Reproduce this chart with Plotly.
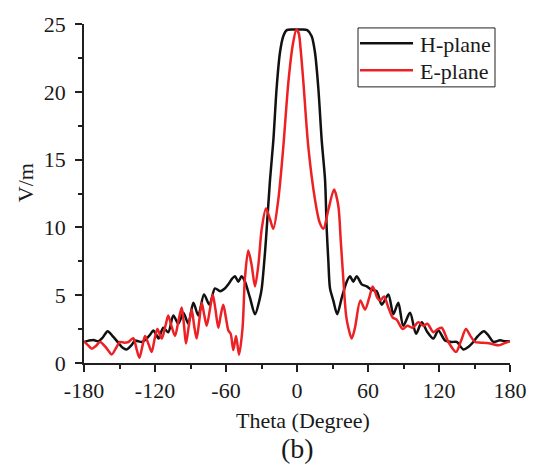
import plotly.graph_objects as go

h_theta = [-180, -176, -172, -168, -164, -160, -156, -151, -147, -144, -140, -137, -134, -131, -127, -124,
           -121.4, -119, -117, -113, -108.8, -104.5, -100.3, -96, -91.9, -87.6, -83.4, -78.6, -74, -69.3,
           -65, -61, -58, -55, -52.4, -49.6, -46.8, -44, -39.7, -35.5, -31.3, -29.8, -27, -25.6, -22.8,
           -20, -17.2, -14.4, -11.6, -8.7, -4, 0, 4, 8.7, 12.4, 15.2, 18, 20.9, 23.7, 25.1, 26.5, 27.9,
           30.7, 34, 37.8, 42, 44.8, 47.6, 50.4, 54.7, 58.9, 63, 67.3, 71.6, 77.2, 81.4, 85.6, 89.8, 95.5,
           100.6, 105.4, 110, 115.2, 119.4, 125, 130.7, 135, 140.6, 145, 149, 153, 158, 162, 166, 171.5,
           176, 180]
h_plane = [1.55, 1.65, 1.7, 1.6, 1.9, 2.35, 2.0, 1.5, 1.1, 1.0, 1.3, 1.65, 1.6, 1.55, 1.8, 2.1,
           2.4, 2.1, 1.8, 2.6, 2.27, 3.5, 2.9, 3.7, 2.9, 4.45, 3.5, 5.05, 4.3, 5.5,
           5.3, 5.5, 5.8, 6.2, 6.4, 6.0, 6.4, 6.0, 4.8, 3.6, 4.8, 5.5, 8.2, 9.9, 13.5,
           16.4, 20.3, 22.9, 24.1, 24.55, 24.6, 24.6, 24.6, 24.55, 24.1, 22.9, 20.3, 16.4, 13.5, 9.9, 7.5, 5.5,
           4.6, 3.6, 4.8, 6.0, 6.4, 6.0, 6.4, 5.8, 5.65, 5.4, 5.3, 4.3, 5.05, 3.6, 4.45, 2.75, 3.7,
           2.15, 3.0, 2.3, 1.8, 2.4, 1.67, 1.55, 1.55, 1.0, 1.2, 1.55, 2.0, 2.35, 2.0, 1.55, 1.67,
           1.6, 1.6]

e_theta = [-180, -176.5, -173.5, -170, -166.5, -161, -156.6, -153, -149.6, -146, -142.5, -138.3, -135.5,
           -133.2, -130.5, -128.4, -125.5, -122.8, -120.5, -118, -114.3, -111, -108.8, -106, -103.1, -100,
           -97.4, -95.5, -93.8, -91.5, -89, -87, -84.8, -82.5, -80.5, -78.5, -76.3, -73.5, -71.2, -69,
           -66.5, -64.5, -62.3, -60, -58, -56, -53.8, -51.5, -49, -46, -44, -41.2, -38.3, -35.5, -32.7,
           -29.8, -26.2, -22.8, -20, -15.8, -11.6, -7.3, -3.5, -0.5, 1.5, 3, 5.4, 9.6, 15.2, 19, 22.3,
           26.5, 31.3, 34.9, 37, 39.1, 41.5, 43.4, 46.2, 49, 53.5, 57.5, 61, 64, 67.9, 70.1, 73.5, 77.2,
           80.9, 84.2, 89.3, 93.3, 97.8, 102.5, 106.8, 110.2, 115.2, 119, 122.3, 127.9, 134.4, 138.5,
           142.8, 146.5, 150.4, 155, 160.3, 165, 170.1, 175, 180]
e_plane = [1.6, 1.3, 1.06, 1.25, 1.55, 1.1, 0.63, 1.1, 1.55, 1.5, 1.55, 1.83, 1.0,
           0.38, 1.3, 2.0, 1.4, 0.82, 1.7, 2.5, 1.8, 2.8, 3.5, 2.7, 2.0, 3.2,
           4.1, 2.8, 1.43, 2.7, 3.95, 2.8, 1.8, 3.2, 4.45, 3.6, 2.75, 4.0, 5.05, 4.0,
           2.6, 3.5, 4.3, 3.3, 2.4, 2.15, 0.95, 2.0, 0.6, 2.6, 6.25, 8.3, 7.2, 5.65, 7.2,
           9.9, 11.4, 10.6, 9.9, 12.05, 15.9, 20.7, 23.5, 24.6, 24.3, 23.2, 20.7, 15.9, 12.05, 10.4, 9.9,
           11.3, 12.8, 11.6, 9.0, 6.25, 3.5, 2.6, 1.8, 2.6, 4.6, 3.95, 4.8, 5.65, 4.8, 4.6, 4.9, 4.1,
           3.35, 3.2, 2.5, 2.75, 2.6, 3.0, 2.75, 2.9, 2.27, 2.5, 2.6, 1.55, 0.82, 1.6,
           2.5, 2.0, 1.55, 1.5, 1.47, 1.4, 1.3, 1.45, 1.6]

x_ticks = [-180, -120, -60, 0, 60, 120, 180]
y_ticks = [0, 5, 10, 15, 20, 25]
series_names = ["H-plane", "E-plane"]
series_colors = ["#111111", "#ed2024"]

FONT = "Liberation Serif"
TXT = "#1a1a1a"

fig = go.Figure()
fig.add_trace(go.Scatter(x=h_theta, y=h_plane, mode="lines", name=series_names[0],
                         line=dict(color=series_colors[0], width=2.5, shape="spline", smoothing=0.8)))
fig.add_trace(go.Scatter(x=e_theta, y=e_plane, mode="lines", name=series_names[1],
                         line=dict(color=series_colors[1], width=2.5, shape="spline", smoothing=0.8)))

axis_common = dict(showline=True, linecolor="#231f20", linewidth=1.5, ticks="outside", ticklen=7,
                   tickwidth=1.5, tickcolor="#231f20", showgrid=False, zeroline=False, mirror=False,
                   tickfont=dict(family=FONT, size=22, color=TXT))

# plot-area pixel geometry (for legend box placement)
L, R, T, B = 84, 510, 18, 363
def px(x):
    return (x - L) / (R - L)
def py(y):
    return (B - y) / (B - T)

shapes = [dict(type="rect", xref="paper", yref="paper", x0=px(358), x1=px(495), y0=py(82), y1=py(22),
               line=dict(color="#231f20", width=1), fillcolor="white", layer="above")]
annotations = []
for i, (nm, col) in enumerate(zip(series_names, series_colors)):
    yy = [37.5, 65][i]
    shapes.append(dict(type="line", xref="paper", yref="paper", x0=px(360), x1=px(413), y0=py(yy), y1=py(yy),
                       line=dict(color=col, width=2.5), layer="above"))
    annotations.append(dict(text=nm, x=px(418), y=py(yy + 1), xref="paper", yref="paper",
                            xanchor="left", yanchor="middle", showarrow=False,
                            font=dict(family=FONT, size=22, color=TXT)))

annotations += [
    dict(text="Theta (Degree)", x=px(303), y=py(422), xref="paper", yref="paper",
         xanchor="center", yanchor="middle", showarrow=False,
         font=dict(family=FONT, size=22, color=TXT)),
    dict(text="(b)", x=px(297), y=py(450), xref="paper", yref="paper",
         xanchor="center", yanchor="middle", showarrow=False,
         font=dict(family=FONT, size=28, color=TXT)),
    dict(text="V/m", x=px(25), y=py(180), xref="paper", yref="paper", showarrow=False,
         xanchor="center", yanchor="middle", textangle=-90,
         font=dict(family=FONT, size=22, color=TXT)),
]

fig.update_layout(
    width=539, height=464,
    margin=dict(l=L, r=539 - R, t=T, b=464 - B),
    paper_bgcolor="white", plot_bgcolor="white",
    xaxis=dict(range=[-180, 180], tickvals=x_ticks, ticktext=[str(v) for v in x_ticks],
               minor=dict(dtick=30, tick0=-180, ticks="outside", ticklen=4, tickwidth=1.5, tickcolor="#231f20"),
               **axis_common),
    yaxis=dict(range=[0, 25], tickvals=y_ticks, ticktext=[str(v) for v in y_ticks],
               minor=dict(dtick=2.5, tick0=0, ticks="outside", ticklen=4, tickwidth=1.5, tickcolor="#231f20"),
               ticklabelstandoff=5,
               **axis_common),
    showlegend=False,
    shapes=shapes,
    annotations=annotations,
)

fig.write_html("out.html")
